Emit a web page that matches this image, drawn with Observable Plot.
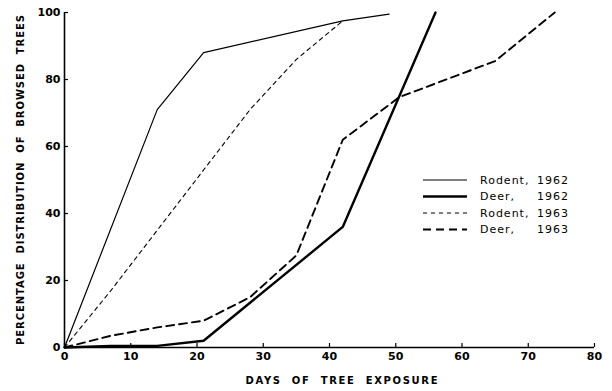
<!DOCTYPE html>
<html>
<head>
<meta charset="utf-8">
<script src="https://cdn.jsdelivr.net/npm/d3@7"></script>
<script src="https://cdn.jsdelivr.net/npm/@observablehq/plot@0.6"></script>
<style>
  html, body { margin: 0; padding: 0; background: #fff; }
  #wrap { position: relative; width: 612px; height: 391px; }
  #legend { position: absolute; left: 0; top: 0; }
</style>
</head>
<body>
<div id="wrap"></div>
<script>
// ---- data ----
const seriesNames = ["Rodent, 1962", "Deer, 1962", "Rodent, 1963", "Deer, 1963"];
const legendNames = ["Rodent,", "Deer,", "Rodent,", "Deer,"];
const legendYears = ["1962", "1962", "1963", "1963"];

const rodent1962Days = [0, 14, 21, 42, 49];
const rodent1962Pct  = [0, 71, 88, 97.5, 99.5];

const deer1962Days = [0, 7, 14, 21, 42, 56];
const deer1962Pct  = [0, 0.5, 0.5, 2, 36, 100];

const rodent1963Days = [0, 7, 14, 21, 28, 35, 42];
const rodent1963Pct  = [0, 17, 35, 53, 71, 86, 97.5];

const deer1963Days = [0, 7, 14, 21, 28, 35, 42, 50.5, 65, 74];
const deer1963Pct  = [0, 3.5, 6, 8, 15, 27.5, 62, 74.7, 85.5, 100];

const xTicks = [0, 10, 20, 30, 40, 50, 60, 70, 80];
const yTicks = [0, 20, 40, 60, 80, 100];

const xLabel = "DAYS  OF  TREE  EXPOSURE";
const yLabel = "PERCENTAGE  DISTRIBUTION  OF  BROWSED  TREES";

// ---- styles ----
const W = 612, H = 391, mL = 64, mR = 18, mT = 12, mB = 44;
const frameW = W - mL - mR, frameH = H - mT - mB;
const styles = [
  {stroke: "#000", strokeWidth: 1.2, dash: null},
  {stroke: "#000", strokeWidth: 2.4, dash: null},
  {stroke: "#000", strokeWidth: 1.1, dash: "4,4"},
  {stroke: "#000", strokeWidth: 1.9, dash: "8,5"}
];

const toRows = (days, pct) => days.map((d, i) => ({day: d, pct: pct[i]}));
const series = [
  toRows(rodent1962Days, rodent1962Pct),
  toRows(deer1962Days, deer1962Pct),
  toRows(rodent1963Days, rodent1963Pct),
  toRows(deer1963Days, deer1963Pct)
];

const font = "'DejaVu Sans', sans-serif";

const chart = Plot.plot({
  width: W,
  height: H,
  marginLeft: mL,
  marginRight: mR,
  marginTop: mT,
  marginBottom: mB,
  style: {fontFamily: font, background: "#fff", color: "#000"},
  x: {domain: [0, 80], label: null, axis: null},
  y: {domain: [0, 100], label: null, axis: null},
  marks: [
    Plot.ruleX([0], {stroke: "#000", strokeWidth: 1.6}),
    Plot.ruleY([0], {stroke: "#000", strokeWidth: 1.6}),
    Plot.tickX(xTicks, {x: d => d, insetTop: frameH - 4, stroke: "#000", strokeWidth: 1.2}),
    Plot.tickY(yTicks, {y: d => d, insetRight: frameW - 4, stroke: "#000", strokeWidth: 1.2}),
    Plot.axisX({ticks: xTicks, tickSize: 0, tickPadding: 5, fontSize: 11, fontWeight: "bold"}),
    Plot.axisY({ticks: yTicks, tickSize: 0, tickPadding: 4, fontSize: 11, fontWeight: "bold"}),
    ...series.map((rows, i) => Plot.line(rows, {
      x: "day", y: "pct",
      stroke: styles[i].stroke,
      strokeWidth: styles[i].strokeWidth,
      strokeDasharray: styles[i].dash,
      strokeLinejoin: "miter"
    })),
    Plot.text([xLabel], {frameAnchor: "bottom", textAnchor: "middle", dy: 36, dx: 12, fontSize: 10, fontWeight: "bold"}),
    Plot.text([yLabel], {frameAnchor: "left", textAnchor: "middle", dx: -44, rotate: -90, fontSize: 10, fontWeight: "bold"})
  ]
});

const svgSel = d3.select(chart);
svgSel.selectAll("text").filter(function() { return this.textContent === xLabel; })
  .attr("textLength", 192).attr("lengthAdjust", "spacing");
svgSel.selectAll("text").filter(function() { return this.textContent === yLabel; })
  .attr("textLength", 330).attr("lengthAdjust", "spacing");

document.getElementById("wrap").appendChild(chart);

// ---- legend overlay ----
const legend = d3.select("#wrap").append("svg")
  .attr("id", "legend")
  .attr("width", W).attr("height", H)
  .style("pointer-events", "none");

const rowY = [180, 196.5, 213, 229.5];
seriesNames.forEach((name, i) => {
  const g = legend.append("g");
  g.append("line")
    .attr("x1", 423).attr("x2", 467)
    .attr("y1", rowY[i]).attr("y2", rowY[i])
    .attr("stroke", styles[i].stroke)
    .attr("stroke-width", styles[i].strokeWidth)
    .attr("stroke-dasharray", styles[i].dash);
  g.append("text")
    .attr("x", 480).attr("y", rowY[i]).attr("dy", "0.35em")
    .attr("font-family", font).attr("font-size", 11)
    .style("letter-spacing", "1px")
    .text(legendNames[i]);
  g.append("text")
    .attr("x", 569).attr("y", rowY[i]).attr("dy", "0.35em")
    .attr("text-anchor", "end")
    .attr("font-family", font).attr("font-size", 11)
    .style("letter-spacing", "1px")
    .text(legendYears[i]);
});
</script>
</body>
</html>
